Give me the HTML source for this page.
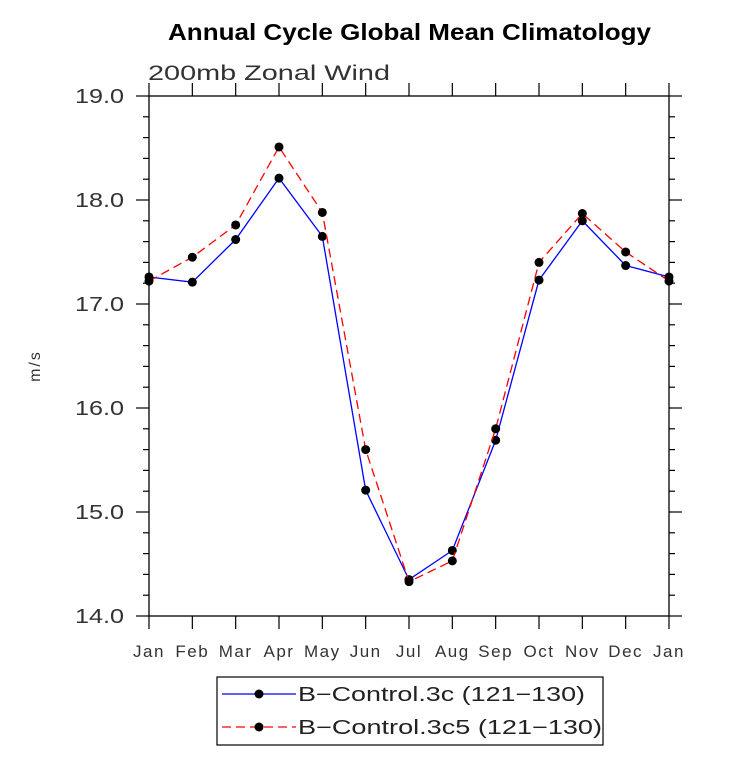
<!DOCTYPE html>
<html><head><meta charset="utf-8"><style>
body{margin:0;background:#fff}
svg text{font-family:"Liberation Sans",sans-serif}
</style></head><body>
<svg id="chart" width="733" height="753" xmlns="http://www.w3.org/2000/svg">
<text x="168" y="40" font-size="23" font-weight="bold" textLength="483" lengthAdjust="spacingAndGlyphs">Annual Cycle Global Mean Climatology</text>
<text x="148" y="80" font-size="21" fill="#333" textLength="242" lengthAdjust="spacingAndGlyphs">200mb Zonal Wind</text>
<text transform="translate(40,366) rotate(-90)" text-anchor="middle" font-size="16" fill="#333" letter-spacing="2">m/s</text>
<g id="axes"></g>
<g id="series"></g>
<g>
<rect x="217" y="677" width="386" height="68" fill="#fff" stroke="#000" stroke-width="1.2"/>
<line x1="222" y1="694" x2="296" y2="694" stroke="#0000ff" stroke-width="1.3"/>
<circle cx="259" cy="694" r="4.5" fill="#000"/>
<text x="298" y="701" font-size="20" fill="#222" textLength="287" lengthAdjust="spacingAndGlyphs">B−Control.3c (121−130)</text>
<line x1="222" y1="727" x2="296" y2="727" stroke="#ff0000" stroke-width="1.3" stroke-dasharray="9,5"/>
<circle cx="259" cy="727" r="4.5" fill="#000"/>
<text x="298" y="734" font-size="20" fill="#222" textLength="304" lengthAdjust="spacingAndGlyphs">B−Control.3c5 (121−130)</text>
</g>
</svg>
<script>
const months = ["Jan","Feb","Mar","Apr","May","Jun","Jul","Aug","Sep","Oct","Nov","Dec","Jan"];
const seriesBlue = [17.26,17.21,17.62,18.21,17.65,15.21,14.35,14.63,15.69,17.23,17.80,17.37,17.26];
const seriesRed = [17.22,17.45,17.76,18.51,17.88,15.60,14.33,14.53,15.80,17.40,17.87,17.50,17.22];
const yTicks = [14.0,15.0,16.0,17.0,18.0,19.0];
const NS="http://www.w3.org/2000/svg";
const L=149,R=669,T=96,B=616,ymin=14,ymax=19;
const xs=i=>L+(R-L)*i/(months.length-1);
const ys=v=>B-(v-ymin)/(ymax-ymin)*(B-T);
function mk(tag,attrs,parent){const e=document.createElementNS(NS,tag);for(const k in attrs)e.setAttribute(k,attrs[k]);parent.appendChild(e);return e;}
const ax=document.getElementById('axes');
const frame=mk('rect',{x:L,y:T,width:R-L,height:B-T,fill:'none',stroke:'#000','stroke-width':1.3},ax);


months.forEach((m,i)=>{
  const x=xs(i);
  mk('line',{x1:x,y1:B,x2:x,y2:B+13,stroke:'#000','stroke-width':1.2},ax);
  mk('line',{x1:x,y1:T,x2:x,y2:T-13,stroke:'#000','stroke-width':1.2},ax);
  const t=mk('text',{x:x,y:657,'text-anchor':'middle','font-size':17,fill:'#333','letter-spacing':1.5},ax);
  t.textContent=m;
  
  
});
for(let v=ymin;v<=ymax+1e-9;v+=0.2){
  const y=ys(v);const major=Math.abs(v-Math.round(v))<1e-6;const len=major?13:6;
  mk('line',{x1:L,y1:y,x2:L-len,y2:y,stroke:'#000','stroke-width':1.2},ax);
  mk('line',{x1:R,y1:y,x2:R+len,y2:y,stroke:'#000','stroke-width':1.2},ax);
}
yTicks.forEach(v=>{
  const t=mk('text',{x:75,y:ys(v)+7,'font-size':20,fill:'#333',textLength:49,lengthAdjust:'spacingAndGlyphs'},ax);
  t.textContent=v.toFixed(1);
  
  
});
const sg=document.getElementById('series');
function drawSeries(vals,color,dash,name){
  const pl=mk('polyline',{points:vals.map((v,i)=>xs(i)+','+ys(v)).join(' '),fill:'none',stroke:color,'stroke-width':1.3,'stroke-dasharray':dash},sg);
  
  
  vals.forEach((v,i)=>{
    const c=mk('circle',{cx:xs(i),cy:ys(v),r:4.5,fill:'#000'},sg);
    
    
  });
}
drawSeries(seriesBlue,'#0000ff','none','control-3c');
drawSeries(seriesRed,'#ff0000','9,5','control-3c5');
</script>
</body></html>
